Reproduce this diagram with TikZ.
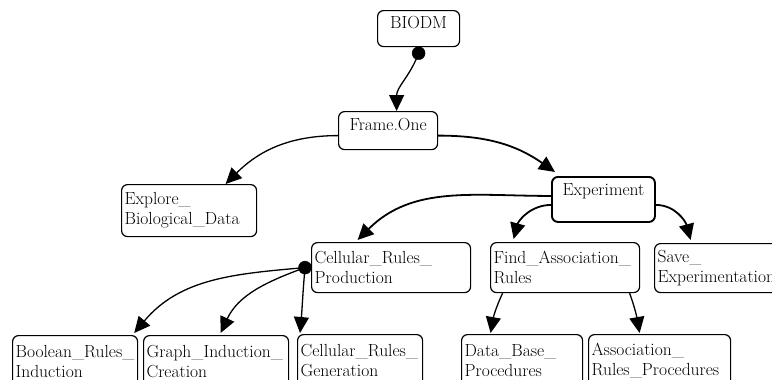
\documentclass[tikz,border=0pt]{standalone}
\usetikzlibrary{arrows.meta}
\tikzset{
  mbox/.style={draw, rounded corners=6pt, line width=1.2pt, anchor=north west,
    inner xsep=3pt, inner ysep=4pt, align=left, font=\fontsize{17.5}{20}\selectfont},
  onebox/.style={mbox, align=center, text height=15pt},
  link/.style={line width=1.3pt, -{Triangle[length=16pt,width=15pt]}},
  boldlink/.style={link, line width=1.8pt}
}
\begin{document}
\begin{tikzpicture}[x=1pt,y=1pt]
\useasboundingbox (0,0) rectangle (772,-380);
\clip (0,0) rectangle (772,-380);
% boxes
\node[onebox, text width=76pt, text height=14pt, text depth=14pt] (biodm) at (377,-10) {BIODM};
\node[onebox, text width=93pt, text depth=15pt] (frame) at (338,-111) {Frame.One};
\node[mbox, text width=129pt, minimum height=52pt] (explore) at (121,-184) {Explore\_\\Biological\_Data};
\node[onebox, line width=1.9pt, text width=97pt, text depth=22pt] (experiment) at (551,-176) {Experiment};
\node[mbox, text width=153pt, minimum height=50pt] (cellular) at (311,-242) {Cellular\_Rules\_\\Production};
\node[mbox, text width=143pt, minimum height=50pt] (find) at (490,-242) {Find\_Association\_\\Rules};
\node[mbox, text width=119pt, minimum height=49pt] (save) at (654,-243) {Save\_\\Experimentation};
\node[mbox, text width=119pt, minimum height=52pt] (boolean) at (12,-335) {Boolean\_Rules\_\\Induction};
\node[mbox, text width=139pt, minimum height=52pt] (graph) at (143,-335) {Graph\_Induction\_\\Creation};
\node[mbox, text width=119pt, minimum height=52pt] (generation) at (297,-334) {Cellular\_Rules\_\\Generation};
\node[mbox, text width=115pt, minimum height=52pt] (database) at (461,-334) {Data\_Base\_\\Procedures};
\node[mbox, text width=136pt, minimum height=52pt] (assoc) at (588,-334) {Association\_\\Rules\_Procedures};
% dots
\coordinate (bdot) at ([yshift=-6pt]biodm.south);
\coordinate (cdot) at ([xshift=-6pt]cellular.west);
\filldraw[black] (bdot) circle (6.5pt);
\filldraw[black] (cdot) circle (6.5pt);
% links
\draw[link] (bdot) to[out=-110,in=90] ([xshift=8.5pt]frame.north);
\draw[link] ([yshift=-5pt]frame.west) to[out=180,in=45] ([xshift=36.5pt]explore.north);
\draw[boldlink] ([yshift=-5pt]frame.east) to[out=0,in=145] ([xshift=4pt,yshift=4pt]experiment.north west);
\draw[boldlink] ([yshift=3.5pt]experiment.west) to[out=180,in=45] ([xshift=-33.5pt,yshift=2pt]cellular.north);
\draw[boldlink] ([yshift=-5.5pt]experiment.west) to[out=180,in=75] ([xshift=-51.5pt,yshift=3pt]find.north);
\draw[boldlink] ([yshift=-5.5pt]experiment.east) to[out=0,in=105] ([xshift=-26.5pt,yshift=3pt]save.north);
\draw[link] (cdot) to[out=185,in=50] ([xshift=-4pt,yshift=2pt]boolean.north east);
\draw[link] (cdot) to[out=200,in=65] ([xshift=4.5pt,yshift=2pt]graph.north);
\draw[link] (cdot) to[out=-95,in=85] ([xshift=3pt,yshift=1pt]generation.north west);
\draw[link] ([xshift=-62.5pt]find.south) to[out=-115,in=80] ([xshift=-31.5pt,yshift=1pt]database.north);
\draw[link] ([xshift=64.5pt]find.south) to[out=-70,in=100] ([xshift=-20pt,yshift=1pt]assoc.north);
\end{tikzpicture}
\end{document}
